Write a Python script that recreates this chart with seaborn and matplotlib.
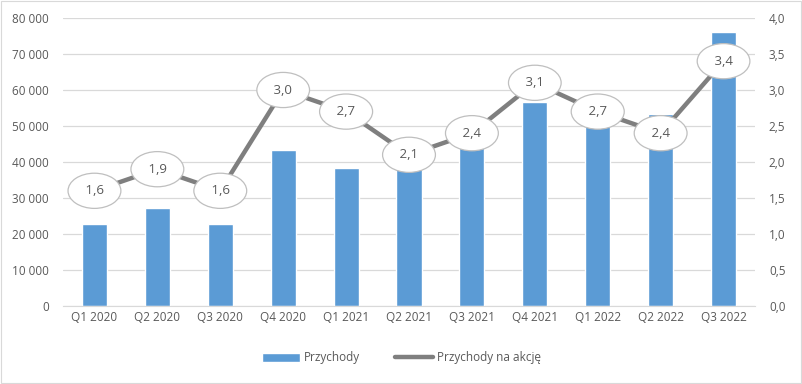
import matplotlib.pyplot as plt
import seaborn as sns
import pandas as pd
from matplotlib.ticker import FuncFormatter

quarters = ["Q1 2020", "Q2 2020", "Q3 2020", "Q4 2020", "Q1 2021", "Q2 2021",
            "Q3 2021", "Q4 2021", "Q1 2022", "Q2 2022", "Q3 2022"]
przychody = [22800, 27300, 22800, 43400, 38400, 41500, 47000, 56600, 51000, 53300, 76100]
na_akcje = [1.6, 1.9, 1.6, 3.0, 2.7, 2.1, 2.4, 3.1, 2.7, 2.4, 3.4]

df = pd.DataFrame({"kw": quarters, "przychody": przychody, "eps": na_akcje})

sns.set_style("white")
plt.rcParams['font.family'] = ['Open Sans', 'DejaVu Sans']
txt = "#595959"

fig = plt.figure(figsize=(8.03, 3.84), dpi=100)
ax = fig.add_axes([63/803, 1 - 306/384, 692/803, 288/384])

sns.barplot(data=df, x="kw", y="przychody", color="#5B9BD5", width=0.4,
            saturation=1, ax=ax, label="Przychody", zorder=2)
ax.set_ylim(0, 80000)
ax.set_yticks(range(0, 80001, 10000))
ax.yaxis.set_major_formatter(FuncFormatter(lambda v, p: f"{int(v):,}".replace(",", " ")))
ax.grid(axis="y", color="#D9D9D9", linewidth=0.9, zorder=0)
ax.set_axisbelow(True)
ax.set_xlabel("")
ax.set_ylabel("")
for s in ["top", "left", "right"]:
    ax.spines[s].set_visible(False)
ax.spines["bottom"].set_color("#D9D9D9")
ax.tick_params(axis="both", length=0, labelsize=8.5, labelcolor=txt)
ax.tick_params(axis="y", pad=10)
ax.set_xlim(-0.5, len(quarters) - 0.5)

ax2 = ax.twinx()
sns.lineplot(x=range(len(quarters)), y=na_akcje, color="#7F7F7F", linewidth=3.2,
             ax=ax2, label="Przychody na akcję", zorder=3)
ax2.set_ylim(0, 4.0)
ax2.set_yticks([i * 0.5 for i in range(9)])
ax2.yaxis.set_major_formatter(FuncFormatter(lambda v, p: f"{v:.1f}".replace(".", ",")))
ax2.tick_params(axis="y", length=0, labelsize=8.5, labelcolor=txt, pad=10)
for s in ax2.spines.values():
    s.set_visible(False)
ax2.set_xlim(-0.5, len(quarters) - 0.5)

for i, v in enumerate(na_akcje):
    ax2.text(i, v, " " + f"{v:.1f}".replace(".", ",") + " ", ha="center", va="center",
             fontsize=9.5, color=txt, zorder=5,
             bbox=dict(boxstyle="ellipse,pad=0.45", fc="white", ec="#BFBFBF", lw=0.9))

ax2.get_legend().remove()
h1, l1 = ax.get_legend_handles_labels()
h2, l2 = ax2.get_legend_handles_labels()
if ax.get_legend():
    ax.get_legend().remove()
fig.legend(h1 + h2, l1 + l2, loc="center", bbox_to_anchor=(0.5, 1 - 358/384),
           ncol=2, frameon=False, fontsize=8.5, labelcolor=txt, handlelength=3.2,
           columnspacing=3, handletextpad=0.3)

fig.patches.append(plt.Rectangle((0.001, 0.002), 0.997, 0.995, transform=fig.transFigure,
                                 fill=False, ec="#D9D9D9", lw=0.8))
fig.savefig("out.png", dpi=100)
